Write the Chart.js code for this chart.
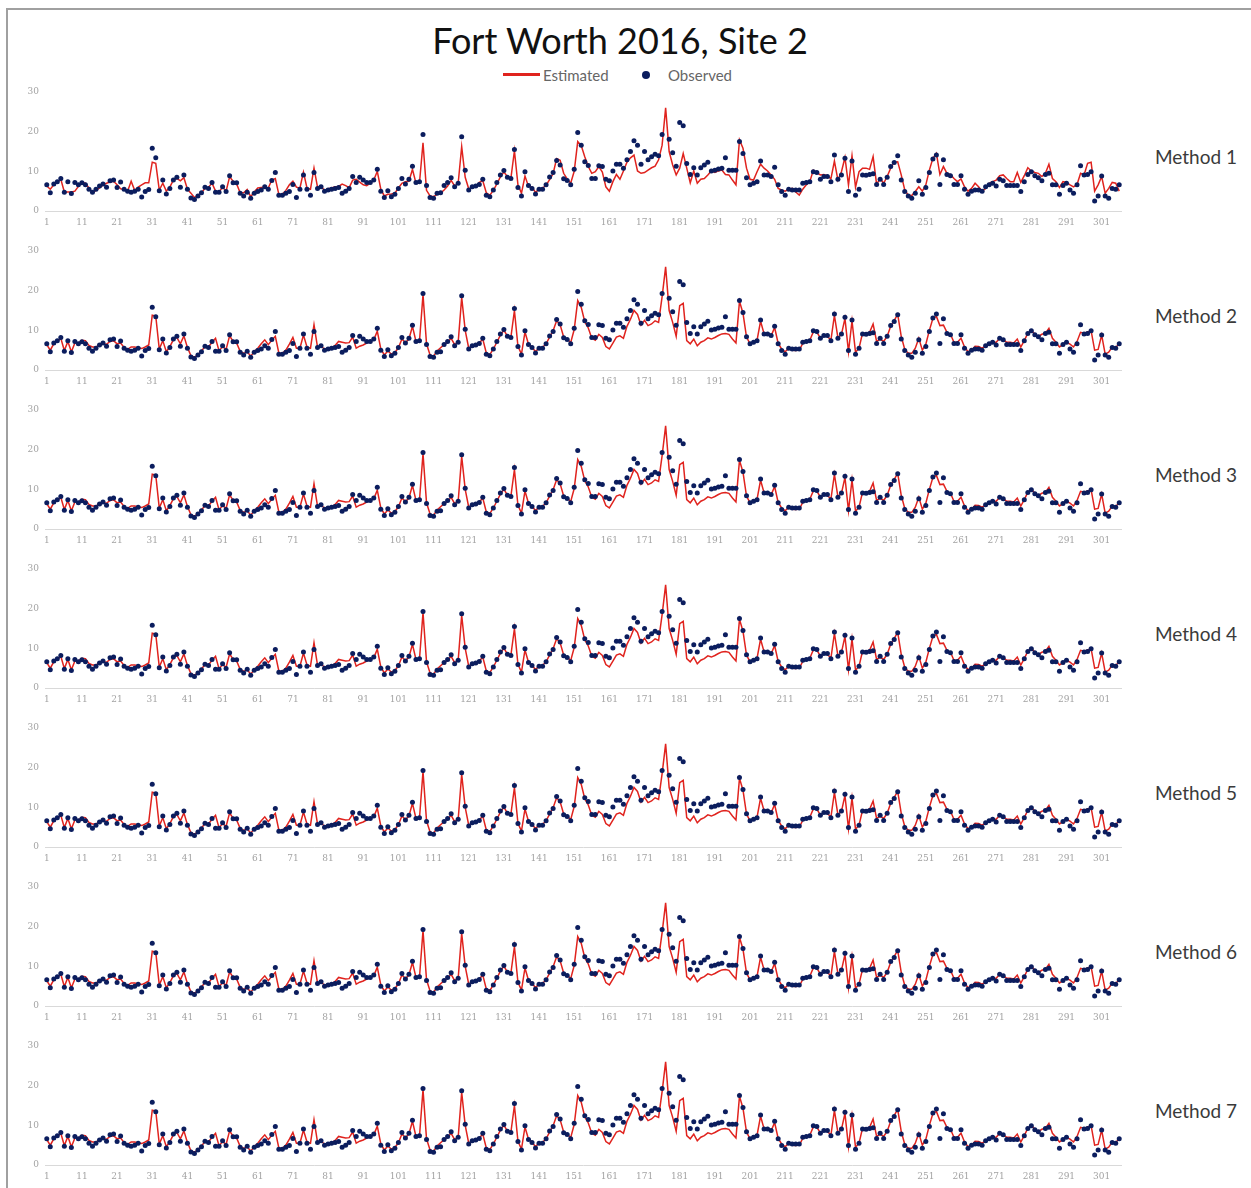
<!DOCTYPE html>
<html>
<head>
<meta charset="utf-8">
<script src="https://cdn.jsdelivr.net/npm/chart.js@4/dist/chart.umd.min.js"></script>
<style>
  body { margin: 0; background: #fff; font-family: Lato, "Open Sans", sans-serif; }
  #frame { position: absolute; left: 6px; top: 8px; width: 1270px; height: 1200px; border: 2px solid #a0a0a0; box-sizing: border-box; }
  #title { position: absolute; left: 0; width: 1240px; top: 18px; text-align: center; font-size: 36px; color: #111; }
  .legend { position: absolute; top: 66px; font-size: 15px; color: #666; }
  .method { position: absolute; left: 1155px; font-size: 19px; color: #3a3a3a; }
  canvas { position: absolute; left: 0; }
</style>
</head>
<body>
<div id="frame"></div>
<div id="title">Fort Worth 2016, Site 2</div>
<div class="legend" style="left:503px;top:73px;width:37px;height:3px;background:#e0231e"></div>
<div class="legend" style="left:543px">Estimated</div>
<div class="legend" style="left:642px;top:71px;width:8px;height:8px;border-radius:50%;background:#0b1d5e"></div>
<div class="legend" style="left:668px">Observed</div>
<div id="panels"></div>
<script>
'use strict';
// day numbers along the x axis
const days = Array.from({ length: 306 }, (_, i) => String(i + 1));
const methods = ['Method 1', 'Method 2', 'Method 3', 'Method 4', 'Method 5', 'Method 6', 'Method 7'];
const yTicks = [0, 10, 20, 30];

// observed daily values (day 177 has no observation)
const observed = [
  6.6, 4.6, 6.8, 7.4, 8.2, 4.7, 7.4, 4.4, 7.2, 6.6,
  7.1, 6.6, 5.5, 4.7, 5.5, 6.3, 6.8, 6.0, 7.6, 7.8,
  5.9, 7.3, 5.5, 5.0, 4.7, 5.0, 5.5, 3.5, 4.9, 5.4,
  15.8, 13.4, 5.1, 7.8, 4.3, 5.7, 7.8, 8.5, 6.0, 9.1,
  5.5, 3.3, 2.9, 3.8, 4.6, 6.0, 5.7, 7.2, 4.7, 4.7,
  6.1, 4.9, 8.9, 7.1, 7.1, 4.5, 3.8, 4.7, 3.2, 4.5,
  4.9, 5.3, 6.1, 5.5, 7.7, 9.7, 4.0, 4.0, 4.5, 4.9,
  6.7, 3.4, 5.5, 9.1, 5.5, 4.0, 9.7, 5.7, 6.1, 5.0,
  5.3, 5.5, 5.7, 5.9, 4.5, 5.0, 5.7, 8.7, 7.2, 8.5,
  7.8, 7.2, 7.2, 7.8, 10.5, 5.0, 3.4, 5.1, 3.6, 4.2,
  5.7, 8.2, 6.8, 8.0, 11.3, 7.2, 7.4, 19.3, 6.4, 3.4,
  3.2, 4.5, 4.6, 6.4, 7.2, 8.4, 6.1, 7.0, 18.7, 10.3,
  5.3, 6.1, 6.3, 6.7, 8.0, 4.0, 3.6, 5.3, 7.2, 9.1,
  10.2, 8.5, 8.2, 15.5, 5.9, 3.8, 9.9, 6.4, 5.7, 4.3,
  5.5, 5.5, 6.6, 8.6, 9.7, 12.7, 11.6, 8.1, 7.7, 6.6,
  10.5, 19.8, 16.6, 12.4, 11.5, 8.2, 8.2, 11.4, 11.2, 8.0,
  7.6, 10.1, 11.8, 11.8, 10.8, 12.9, 15.0, 17.7, 16.6, 11.8,
  15.0, 12.9, 13.7, 14.3, 13.9, 19.3, null, 18.1, 14.7, 11.3,
  22.3, 21.5, 12.0, 9.2, 10.9, 9.1, 10.9, 11.6, 12.3, 10.1,
  10.3, 10.6, 10.8, 13.4, 10.3, 10.3, 10.3, 17.5, 14.5, 8.4,
  6.6, 7.0, 7.4, 12.6, 9.1, 9.1, 8.7, 11.0, 6.6, 4.9,
  4.0, 5.5, 5.3, 5.3, 5.3, 7.0, 7.2, 7.4, 9.9, 9.7,
  8.0, 8.7, 8.7, 7.4, 14.1, 8.0, 9.1, 13.3, 4.9, 12.6,
  4.0, 5.5, 9.1, 9.0, 9.2, 9.4, 6.7, 8.0, 6.7, 8.5,
  11.2, 12.2, 13.9, 7.8, 4.9, 3.8, 3.2, 4.5, 7.6, 4.2,
  5.9, 9.7, 13.1, 14.1, 6.7, 12.9, 9.2, 8.9, 6.7, 6.7,
  8.9, 5.5, 4.2, 5.0, 5.3, 5.3, 5.0, 6.1, 6.6, 7.0,
  6.3, 8.0, 7.6, 6.4, 6.4, 6.4, 6.4, 4.9, 7.4, 9.2,
  9.9, 8.9, 8.4, 7.6, 9.2, 9.5, 6.6, 6.6, 4.2, 6.4,
  7.0, 5.3, 4.5, 6.6, 11.4, 9.1, 9.2, 9.9, 2.5, 3.8,
  8.8, 3.8, 3.2, 5.7, 5.5, 6.6
];

// estimates from method 1
const estimatedM1 = [
  6.3, 5.5, 6.6, 7.3, 8.0, 4.8, 4.8, 4.8, 5.0, 6.2,
  7.2, 7.0, 5.8, 4.6, 5.2, 5.8, 6.5, 7.0, 7.3, 7.5,
  6.6, 5.6, 5.5, 5.0, 7.5, 5.2, 6.0, 6.6, 7.1, 7.1,
  12.3, 12.0, 5.3, 7.0, 5.0, 6.0, 7.8, 8.2, 7.6, 8.4,
  5.5, 4.5, 3.4, 4.0, 4.6, 5.7, 6.0, 7.0, 5.0, 4.8,
  6.0, 5.0, 8.6, 7.5, 6.8, 4.6, 4.6, 5.4, 3.6, 4.8,
  5.8, 5.9, 6.0, 5.8, 7.8, 8.2, 4.2, 4.2, 5.2, 6.6,
  7.5, 6.0, 5.8, 9.8, 5.8, 5.5, 10.8, 6.0, 6.2, 5.2,
  5.6, 5.8, 6.1, 6.2, 6.8, 6.4, 5.9, 7.8, 8.0, 7.3,
  6.6, 6.4, 7.0, 7.8, 10.0, 5.5, 3.8, 4.2, 4.3, 4.5,
  5.8, 7.0, 7.4, 7.5, 10.5, 7.0, 7.1, 17.2, 5.2, 3.8,
  3.6, 4.2, 4.5, 5.3, 6.3, 7.7, 6.3, 7.0, 16.2, 8.5,
  5.6, 5.8, 6.2, 7.2, 7.6, 4.6, 4.0, 5.2, 6.8, 8.6,
  9.8, 8.7, 8.3, 15.2, 6.6, 4.5, 8.8, 6.2, 6.0, 4.7,
  5.5, 5.8, 6.5, 7.9, 9.4, 13.2, 12.8, 9.5, 8.1, 7.0,
  10.0, 17.5, 16.5, 13.7, 11.2, 9.5, 9.9, 11.2, 9.8, 6.1,
  5.0, 7.4, 9.2, 8.0, 10.1, 12.3, 13.4, 14.1, 10.1, 9.5,
  9.7, 10.3, 10.9, 11.3, 12.9, 16.6, 26.0, 15.0, 11.6, 9.1,
  10.8, 14.5, 10.8, 7.1, 10.1, 7.0, 8.0, 8.2, 9.1, 10.1,
  9.7, 10.1, 10.3, 9.2, 9.1, 7.8, 6.6, 17.9, 15.8, 10.8,
  8.0, 7.8, 9.9, 11.8, 10.8, 10.1, 9.1, 8.0, 5.7, 5.3,
  5.0, 5.5, 5.7, 4.8, 4.0, 5.5, 6.6, 7.4, 10.3, 9.7,
  9.1, 9.2, 8.9, 8.1, 12.6, 7.8, 9.9, 13.5, 6.5, 13.9,
  6.0, 9.9, 10.8, 10.8, 10.5, 13.7, 6.7, 8.2, 7.0, 8.7,
  10.8, 12.3, 12.4, 9.1, 5.3, 4.0, 3.9, 4.9, 6.1, 5.0,
  6.6, 10.3, 13.3, 14.5, 9.2, 11.2, 9.5, 9.2, 8.2, 7.4,
  8.1, 6.1, 5.0, 5.7, 7.0, 6.1, 5.0, 5.7, 7.0, 7.4,
  7.8, 8.9, 9.1, 8.2, 7.4, 7.4, 9.7, 7.2, 8.9, 10.9,
  10.1, 9.7, 9.5, 8.7, 9.5, 11.8, 8.2, 7.4, 5.9, 7.4,
  7.2, 6.6, 6.1, 6.7, 9.5, 9.1, 12.0, 12.3, 5.0, 6.6,
  8.7, 4.5, 5.7, 7.2, 7.0, 5.0
];

// estimates shared by methods 2 to 7
const estimatedM2to7 = [
  6.4, 5.0, 6.6, 7.2, 8.0, 4.9, 7.2, 4.6, 6.8, 6.8,
  7.5, 7.4, 6.2, 5.8, 5.8, 6.3, 6.6, 6.5, 7.2, 7.4,
  6.6, 6.8, 5.7, 5.2, 5.8, 5.8, 5.6, 5.4, 5.8, 6.3,
  13.8, 13.6, 5.3, 7.4, 4.6, 5.9, 7.6, 8.2, 6.6, 8.6,
  5.7, 3.6, 3.2, 3.9, 4.8, 5.9, 5.8, 7.0, 8.0, 4.8,
  5.9, 5.2, 8.6, 7.2, 6.8, 4.7, 4.2, 4.6, 3.5, 4.6,
  5.5, 6.6, 7.6, 6.4, 7.5, 8.5, 4.3, 4.2, 5.0, 6.5,
  8.2, 5.5, 5.5, 8.8, 5.8, 5.5, 11.4, 5.8, 6.0, 5.3,
  5.5, 5.6, 6.2, 7.2, 7.0, 6.8, 6.9, 8.3, 5.5, 6.0,
  6.3, 6.8, 7.2, 7.6, 9.8, 5.3, 3.8, 4.8, 4.0, 4.4,
  5.6, 7.8, 6.9, 7.8, 11.0, 7.2, 7.3, 19.0, 6.6, 3.8,
  3.5, 4.8, 5.6, 6.4, 7.0, 8.0, 6.4, 7.0, 18.3, 10.0,
  5.5, 6.1, 6.4, 6.8, 7.8, 4.3, 3.9, 5.3, 7.0, 8.8,
  10.0, 8.6, 8.3, 15.0, 6.0, 4.0, 9.6, 6.5, 5.8, 4.6,
  5.6, 5.7, 6.6, 8.3, 9.9, 12.4, 11.4, 8.3, 7.8, 6.9,
  10.2, 17.5, 15.8, 12.2, 10.6, 8.0, 7.5, 9.0, 8.2, 5.9,
  5.3, 6.8, 8.3, 8.6, 8.0, 11.0, 12.8, 15.0, 14.0, 11.3,
  12.5, 11.2, 11.6, 12.4, 12.0, 18.5, 26.0, 15.0, 12.0, 8.5,
  16.2, 16.8, 7.4, 6.6, 7.8, 6.1, 7.0, 7.4, 8.1, 7.8,
  8.2, 8.7, 9.1, 9.2, 9.0, 7.8, 6.8, 17.3, 14.3, 8.3,
  6.6, 7.0, 7.5, 12.3, 9.1, 9.0, 8.6, 10.7, 6.7, 5.3,
  4.6, 5.5, 5.0, 4.9, 5.0, 6.7, 7.2, 7.5, 9.6, 9.5,
  8.1, 8.6, 8.5, 7.5, 13.8, 8.1, 9.0, 13.0, 4.6, 12.4,
  4.5, 5.5, 9.3, 9.2, 9.5, 11.6, 7.2, 7.8, 7.2, 8.5,
  11.0, 12.5, 14.0, 8.5, 5.2, 4.2, 4.2, 5.5, 8.0, 5.0,
  6.5, 10.0, 13.0, 13.5, 11.2, 11.3, 9.5, 9.0, 7.0, 7.0,
  8.0, 5.8, 4.6, 5.0, 6.0, 5.9, 5.5, 6.1, 6.8, 7.0,
  7.0, 8.0, 7.7, 7.0, 7.0, 6.8, 7.8, 5.8, 7.4, 9.3,
  10.0, 9.0, 8.5, 9.0, 9.3, 10.5, 8.0, 7.0, 5.8, 6.4,
  7.0, 6.5, 5.8, 7.2, 9.5, 9.3, 9.6, 9.9, 5.0, 5.2,
  8.8, 4.0, 4.5, 5.8, 5.7, 6.7
];

const panelEstimates = [estimatedM1, estimatedM2to7, estimatedM2to7, estimatedM2to7,
  estimatedM2to7, estimatedM2to7, estimatedM2to7];

const panels = document.getElementById('panels');

const drawPanel = (idx) => {
  const top = 80 + idx * 159;
  const canvas = document.createElement('canvas');
  canvas.width = 1140;
  canvas.height = 150;
  canvas.style.top = top + 'px';
  panels.append(canvas);

  const label = document.createElement('div');
  label.className = 'method';
  label.style.top = (top + 65) + 'px';
  label.textContent = methods[idx];
  panels.append(label);

  new Chart(canvas.getContext('2d'), {
    type: 'line',
    data: {
      labels: days,
      datasets: [{
        label: 'Observed',
        data: observed,
        showLine: false,
        pointRadius: 2.5,
        pointBorderWidth: 0,
        pointBackgroundColor: '#0b1d5e',
        order: 0
      }, {
        label: 'Estimated',
        data: panelEstimates[idx],
        borderColor: '#e0231e',
        borderWidth: 1.5,
        pointRadius: 0,
        tension: 0,
        order: 1
      }]
    },
    options: {
      responsive: false,
      animation: false,
      layout: { padding: { left: 0, right: 19, top: 12, bottom: 3 } },
      plugins: {
        legend: { display: false },
        tooltip: { enabled: false }
      },
      scales: {
        x: {
          offset: true,
          grid: { display: false, drawTicks: false },
          border: { display: true, color: '#d9d9d9', width: 1 },
          ticks: {
            autoSkip: false,
            maxRotation: 0,
            minRotation: 0,
            padding: 6,
            color: '#a3a3a3',
            font: { size: 9, family: 'DejaVu Serif' },
            callback: (v, i) => (i % 10 === 0 ? days[i] : null)
          },
          afterFit: s => { s.height = 16; }
        },
        y: {
          min: 0,
          max: 30,
          afterBuildTicks: s => { s.ticks = yTicks.map(v => ({ value: v })); },
          grid: { display: false, drawTicks: false },
          border: { display: false },
          ticks: { padding: 6, color: '#a3a3a3', font: { size: 9, family: 'DejaVu Serif' } },
          afterFit: s => { s.width = 45; }
        }
      }
    }
  });
};

methods.forEach((m, i) => drawPanel(i));
</script>
</body>
</html>
